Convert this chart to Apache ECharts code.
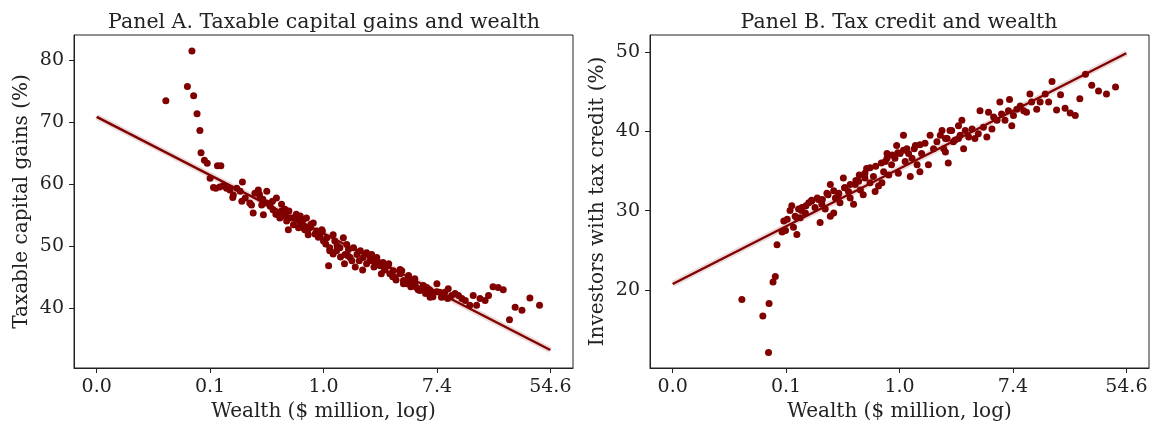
<!DOCTYPE html>
<html>
<head>
<meta charset="utf-8">
<title>Capital gains, tax credit and wealth</title>
<script src="https://cdn.jsdelivr.net/npm/echarts@6/dist/echarts.min.js"></script>
<style>
  html, body { margin: 0; padding: 0; background: #ffffff; }
  #chart { width: 1153px; height: 427px; }
</style>
</head>
<body>
<div id="chart"></div>
<script>
// Wealth is plotted on a natural-log scale; tick labels show exp(value) in $ million.
const xTickLogs = [-4, -2, 0, 2, 4];
const yTicksA = [40, 50, 60, 70, 80];
const yTicksB = [20, 30, 40, 50];

// Panel A: log wealth vs. share of taxable capital gains (%)
const logWealthA = [
  -2.78, -2.40, -2.32, -2.29, -2.23, -2.18, -2.16, -2.10, -2.05, -1.87, -1.81, -2.00,
  -1.94, -1.90, -1.83, -1.77, -1.71, -1.65, -1.59, -1.53, -1.47, -1.43,
  -1.60, -1.44, -1.38, -1.30, -1.27, -1.24, -1.21, -1.15, -1.12, -1.09, -1.06,
  -1.00, -0.94, -0.89, -0.83, -0.80, -0.77, -0.74, -0.68, -0.65, -0.62, -0.59, -0.53, -0.47, -0.44,
  -0.41, -0.36, -0.30, -0.33, -0.27, -0.24, -0.18,
  -0.12, -0.06, -0.03, 0.00, 0.06, 0.09, 0.11, 0.17, 0.20, 0.23,
  0.29, 0.35, 0.38, 0.41, 0.44, 0.47, 0.53, 0.59, 0.65, 0.70, 0.76, 0.82, 0.85, 0.88, 0.94, 0.97,
  1.00, 1.05, 1.08, 1.14, 1.17, 1.23, 1.26, 1.35, 1.38, 1.41, 1.47, 1.50, 1.53, 1.61, 1.64, 1.70,
  1.76, 1.82, 1.88, 1.91, 2.00, 2.05, 2.08, 2.14, 2.20, 2.26, 2.32, 2.38, 2.44, 2.50, 2.58, 2.64,
  2.70, 2.76, 2.85, 2.91, 2.99, 3.08, 3.17, 3.28, 3.38, 3.50, 3.64, 3.81,
  -1.13, -1.07, -1.00, -0.90, -0.84, -0.74, -0.68, -0.61, -0.55, -0.48, -0.41, -0.35, -0.28, -0.22,
  -0.15, -0.09, -0.02, 0.04, 0.11, 0.17, 0.24, 0.30, 0.37, 0.43, 0.50, 0.56, 0.63, 0.69, 0.76,
  0.82, 0.89, 0.95, 1.02, 1.08, 1.15, 1.22, 1.28, 1.35, 1.41, 1.48, 1.54, 1.61, 1.67, 1.74, 1.80,
  1.87, 1.93, 2.00, 2.13, 2.19
];
const taxableGainsA = [
  73.5, 75.8, 81.5, 74.3, 71.4, 68.7, 65.1, 63.9, 63.4, 63.0, 63.0, 61.0,
  59.5, 59.4, 59.6, 59.8, 59.4, 59.1, 58.3, 59.4, 58.9, 60.4,
  57.9, 57.3, 57.8, 57.0, 56.7, 55.4, 58.6, 59.1, 57.8, 56.7, 55.1,
  57.0, 56.5, 55.9, 57.8, 55.1, 54.6, 55.7, 54.9, 54.1, 52.7, 54.6, 53.5, 54.3, 53.0,
  54.9, 54.3, 54.6, 52.7, 51.9, 53.0, 53.8,
  52.5, 51.7, 52.7, 50.9, 51.4, 46.9, 49.8, 51.9, 50.9, 49.3,
  49.8, 51.4, 48.7, 50.3, 49.5, 48.2, 49.8, 48.7, 49.3, 48.2, 49.0, 48.5, 48.7, 47.7, 48.2, 47.4,
  46.9, 47.4, 46.3, 46.9, 45.6, 46.1, 45.0, 46.3, 46.1, 44.5, 44.0, 45.3, 44.5, 44.8, 43.4, 42.9,
  43.7, 43.4, 41.8, 42.6, 44.0, 42.6, 41.8, 42.6, 43.2, 42.1, 42.4, 42.1, 41.6, 41.3, 40.5, 42.1,
  40.5, 41.6, 41.3, 42.1, 43.5, 43.4, 43.0, 38.2, 40.2, 39.7, 41.7, 40.5,
  58.4, 57.6, 58.9, 57.3, 55.2, 56.8, 56.0, 55.7, 54.6, 55.2, 53.8, 53.0, 52.5, 53.6,
  52.0, 51.5, 52.5, 50.4, 49.3, 48.8, 50.1, 48.3, 47.2, 48.5, 47.7, 46.7, 47.7, 46.2, 47.2,
  47.7, 46.7, 47.2, 45.6, 46.2, 47.2, 45.1, 44.6, 45.6, 44.0, 44.6, 43.5, 44.0, 43.0, 43.2, 42.4,
  43.0, 41.9, 42.7, 41.9, 41.6
];

// Panel B: log wealth vs. share of investors with a tax credit (%)
const logWealthB = [
  -2.78, -2.41, -2.30, -2.31, -2.23, -2.19, -2.16,
  -2.07, -2.01, -2.04, -1.98, -1.90, -1.93, -1.87, -1.81,
  -1.84, -1.78, -1.72, -1.75, -1.66, -1.60, -1.55, -1.49, -1.43, -1.40, -1.37, -1.31, -1.28, -1.22,
  -1.22, -1.16, -1.13, -1.08, -1.05, -0.99, -0.96, -0.90, -0.87, -0.81, -0.78, -0.72, -0.69, -0.64,
  -0.58, -0.61, -0.52, -0.46, -0.43, -0.37, -0.31, -0.28, -0.25, -0.19, -0.22, -0.14, -0.08, -0.05,
  -0.02, 0.01, 0.07, 0.10, 0.13, 0.19, 0.22, 0.28, 0.31, 0.36, 0.39, 0.45, 0.51, 0.54, 0.60, 0.66,
  0.72, 0.78, 0.81, 0.86, 0.89, 0.95, 1.04,
  0.75, 0.81, 0.84, 0.92, 0.98, 1.04, 1.10, 1.13, 1.07, 1.16, 1.22, 1.28, 1.33, 1.39, 1.42, 1.48,
  1.54, 1.57, 1.63, 1.66, 1.72, 1.77, 1.80, 1.86, 1.92, 1.94, 1.98, 2.01, 2.07, 2.13, 2.19, 2.24,
  2.30, 2.33, 2.42, 2.48, 2.57, 2.63, 2.69, 2.77, 2.84, 2.92, 3.01, 3.10, 3.18, 3.28, 3.39, 3.51,
  3.65, 3.81,
  -1.81, -1.73, -1.65, -1.55, -1.45, -1.36, -1.26, -1.16, -1.07, -0.97, -0.87, -0.77, -0.71, -0.61,
  -0.52, -0.42, -0.32, -0.22, -0.13, -0.03, 0.07, 0.16, 0.26, 0.36
];
const taxCreditB = [
  18.8, 16.7, 18.3, 12.1, 21.0, 21.7, 25.7,
  27.3, 27.5, 28.7, 28.9, 30.6, 30.0, 27.9, 27.0,
  29.3, 30.2, 30.4, 29.1, 29.7, 31.0, 31.2, 30.4, 31.4, 28.5, 30.8, 30.2, 32.2, 33.3,
  29.3, 29.7, 31.6, 32.0, 31.0, 34.1, 32.9, 32.4, 31.6, 30.8, 33.3, 33.7, 32.6, 32.0,
  35.3, 34.1, 33.5, 34.3, 32.4, 33.1, 33.5, 34.9, 36.2, 34.5, 37.2, 35.8, 36.6, 38.2,
  34.7, 37.2, 39.5, 36.2, 37.8, 34.3, 36.6, 38.2, 35.8, 34.9, 37.2, 38.5, 35.8, 39.5, 37.8, 38.7,
  39.5, 37.8, 39.1, 36.0, 40.1, 38.7, 39.1,
  40.1, 37.4, 39.1, 40.1, 38.9, 40.7, 41.4, 37.8, 39.5, 40.1, 39.3, 40.3, 39.1, 39.7, 42.6, 40.5,
  39.3, 42.4, 40.3, 41.8, 41.4, 43.7, 42.2, 41.4, 42.6, 44.0, 40.7, 42.0, 42.8, 43.2, 42.6, 42.4,
  44.7, 43.7, 42.8, 43.7, 44.7, 43.7, 46.3, 42.7, 44.6, 42.9, 42.3, 42.0, 44.1, 47.2, 45.8, 45.1,
  44.7, 45.6,
  29.1, 30.0, 30.6, 31.3, 31.6, 31.4, 32.0, 32.5, 32.2, 32.9, 33.3, 33.8, 34.5, 34.7,
  35.4, 35.6, 36.0, 36.6, 37.0, 37.3, 37.6, 37.2, 37.8, 38.3
];

// Fitted regression lines, end points at log wealth = -4 and 4
const fitLogWealth = [-4, 4];
const fitA = [70.9, 33.3];
const fitB = [20.75, 49.85];

const pairs = (xs, ys) => xs.map((x, i) => [x, ys[i]]);

const ink = '#222222';
const maroon = '#800000';
const serif = 'DejaVu Serif';
const tickSize = 19;
const nameSize = 20;
const titleSize = 20.5;

function makeXAxis(gridIndex) {
  return {
    type: 'value', gridIndex: gridIndex, min: -4.4, max: 4.4,
    name: 'Wealth ($ million, log)', nameLocation: 'middle', nameGap: 34,
    nameTextStyle: { fontFamily: serif, fontSize: nameSize, color: ink },
    axisLine: { show: true, onZero: false, lineStyle: { color: ink, width: 1 } },
    axisTick: { show: true, inside: false, length: 5, customValues: xTickLogs, lineStyle: { color: ink } },
    axisLabel: {
      customValues: xTickLogs, margin: 10,
      fontFamily: serif, fontSize: tickSize, color: ink,
      formatter: v => Math.exp(v).toFixed(1)
    },
    splitLine: { show: false }
  };
}

function makeYAxis(gridIndex, min, max, ticks, name) {
  return {
    type: 'value', gridIndex: gridIndex, min: min, max: max,
    name: name, nameLocation: 'middle', nameGap: 42,
    nameTextStyle: { fontFamily: serif, fontSize: nameSize, color: ink },
    axisLine: { show: true, onZero: false, lineStyle: { color: ink, width: 1 } },
    axisTick: { show: true, inside: false, length: 5, customValues: ticks, lineStyle: { color: ink } },
    axisLabel: { customValues: ticks, margin: 10, fontFamily: serif, fontSize: tickSize, color: ink },
    splitLine: { show: false }
  };
}

function scatter(idx, data) {
  return {
    type: 'scatter', xAxisIndex: idx, yAxisIndex: idx, data: data,
    symbol: 'circle', symbolSize: 7, itemStyle: { color: maroon, opacity: 1 },
    z: 2, silent: true
  };
}

function fit(idx, data) {
  return [
    { // faint confidence band around the fit
      type: 'line', xAxisIndex: idx, yAxisIndex: idx, data: data,
      symbol: 'none', lineStyle: { color: maroon, width: 6, opacity: 0.15 }, z: 3, silent: true
    },
    {
      type: 'line', xAxisIndex: idx, yAxisIndex: idx, data: data,
      symbol: 'none', lineStyle: { color: maroon, width: 2.4 }, z: 4, silent: true
    }
  ];
}

const chart = echarts.init(document.getElementById('chart'), null, { renderer: 'canvas' });
chart.setOption({
  animation: false,
  backgroundColor: '#ffffff',
  title: [
    { text: 'Panel A. Taxable capital gains and wealth', left: 319, top: 7, textAlign: 'center',
      textStyle: { fontFamily: serif, fontSize: titleSize, fontWeight: 'normal', color: ink } },
    { text: 'Panel B. Tax credit and wealth', left: 894, top: 7, textAlign: 'center',
      textStyle: { fontFamily: serif, fontSize: titleSize, fontWeight: 'normal', color: ink } }
  ],
  grid: [
    { left: 74, top: 35, width: 499, height: 337, show: true, borderColor: ink, borderWidth: 1, backgroundColor: 'transparent' },
    { left: 650, top: 35, width: 499, height: 337, show: true, borderColor: ink, borderWidth: 1, backgroundColor: 'transparent' }
  ],
  xAxis: [makeXAxis(0), makeXAxis(1)],
  yAxis: [
    makeYAxis(0, 30.4, 84.1, yTicksA, 'Taxable capital gains (%)'),
    makeYAxis(1, 10.15, 52.15, yTicksB, 'Investors with tax credit (%)')
  ],
  series: [
    scatter(0, pairs(logWealthA, taxableGainsA)),
    ...fit(0, pairs(fitLogWealth, fitA)),
    scatter(1, pairs(logWealthB, taxCreditB)),
    ...fit(1, pairs(fitLogWealth, fitB))
  ]
});
</script>
</body>
</html>
